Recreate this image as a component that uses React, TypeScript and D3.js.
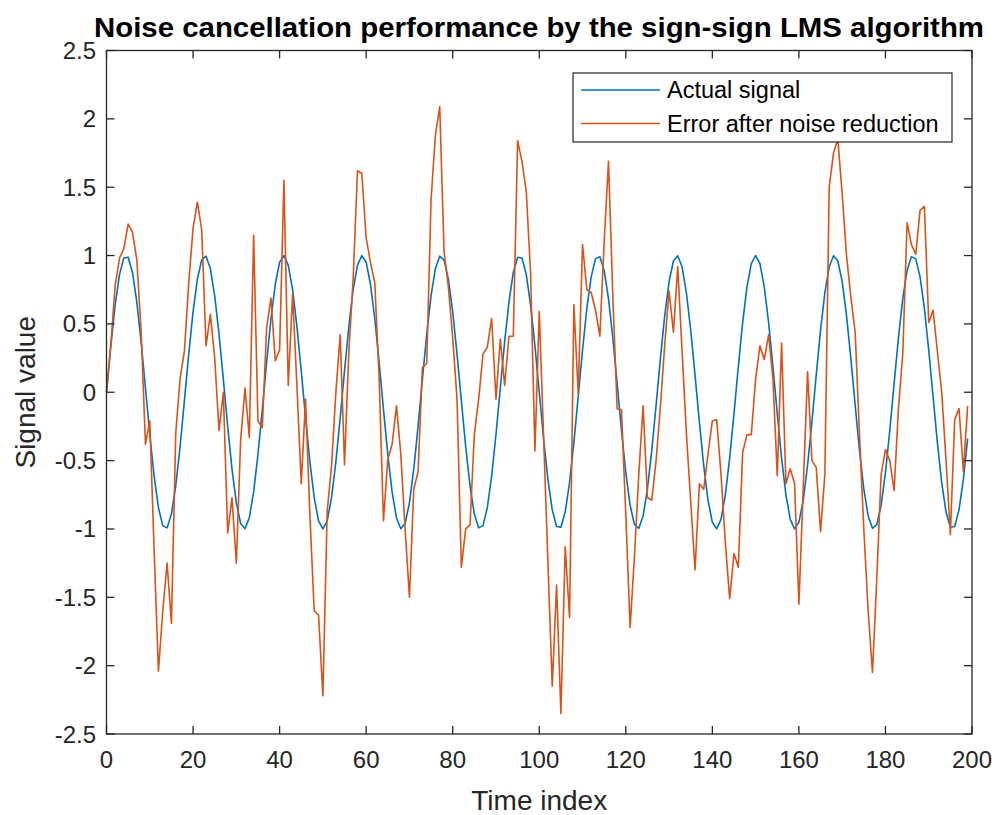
import React from "react";
import * as d3 from "d3";

const xTicks = [0, 20, 40, 60, 80, 100, 120, 140, 160, 180, 200];
const yTicks = [-2.5, -2, -1.5, -1, -0.5, 0, 0.5, 1, 1.5, 2, 2.5];
const yTickLabels = ["-2.5", "-2", "-1.5", "-1", "-0.5", "0", "0.5", "1", "1.5", "2", "2.5"];

const seriesNames = ["Actual signal", "Error after noise reduction"];

const actualSignal = [
  0, 0.3387, 0.6374, 0.8607, 0.9823, 0.9877, 0.8763, 0.6613, 0.3681, 0.0314,
  -0.309, -0.6129, -0.8443, -0.9759, -0.9921, -0.891, -0.6845, -0.3971, -0.0628, 0.279,
  0.5878, 0.8271, 0.9686, 0.9956, 0.9048, 0.7071, 0.4258, 0.0941, -0.2487, -0.5621,
  -0.809, -0.9603, -0.998, -0.9178, -0.729, -0.454, -0.1253, 0.2181, 0.5358, 0.7902,
  0.9511, 0.9995, 0.9298, 0.7501, 0.4818, 0.1564, -0.1874, -0.509, -0.7705, -0.9409,
  -1.0, -0.9409, -0.7705, -0.509, -0.1874, 0.1564, 0.4818, 0.7501, 0.9298, 0.9995,
  0.9511, 0.7902, 0.5358, 0.2181, -0.1253, -0.454, -0.729, -0.9178, -0.998, -0.9603,
  -0.809, -0.5621, -0.2487, 0.0941, 0.4258, 0.7071, 0.9048, 0.9956, 0.9686, 0.8271,
  0.5878, 0.279, -0.0628, -0.3971, -0.6845, -0.891, -0.9921, -0.9759, -0.8443, -0.6129,
  -0.309, 0.0314, 0.3681, 0.6613, 0.8763, 0.9877, 0.9823, 0.8607, 0.6374, 0.3387,
  0, -0.3387, -0.6374, -0.8607, -0.9823, -0.9877, -0.8763, -0.6613, -0.3681, -0.0314,
  0.309, 0.6129, 0.8443, 0.9759, 0.9921, 0.891, 0.6845, 0.3971, 0.0628, -0.279,
  -0.5878, -0.8271, -0.9686, -0.9956, -0.9048, -0.7071, -0.4258, -0.0941, 0.2487, 0.5621,
  0.809, 0.9603, 0.998, 0.9178, 0.729, 0.454, 0.1253, -0.2181, -0.5358, -0.7902,
  -0.9511, -0.9995, -0.9298, -0.7501, -0.4818, -0.1564, 0.1874, 0.509, 0.7705, 0.9409,
  1.0, 0.9409, 0.7705, 0.509, 0.1874, -0.1564, -0.4818, -0.7501, -0.9298, -0.9995,
  -0.9511, -0.7902, -0.5358, -0.2181, 0.1253, 0.454, 0.729, 0.9178, 0.998, 0.9603,
  0.809, 0.5621, 0.2487, -0.0941, -0.4258, -0.7071, -0.9048, -0.9956, -0.9686, -0.8271,
  -0.5878, -0.279, 0.0628, 0.3971, 0.6845, 0.891, 0.9921, 0.9759, 0.8443, 0.6129,
  0.309, -0.0314, -0.3681, -0.6613, -0.8763, -0.9877, -0.9823, -0.8607, -0.6374, -0.3387,
];

const errorSignal = [
  0.0, 0.35, 0.78, 0.98, 1.05, 1.23, 1.17, 0.97, 0.45, -0.38,
  -0.21, -1.15, -2.04, -1.6, -1.25, -1.69, -0.3, 0.1, 0.3, 0.8,
  1.2, 1.39, 1.19, 0.34, 0.57, 0.25, -0.28, 0.0, -1.03, -0.77,
  -1.25, -0.35, 0.03, -0.33, 1.15, -0.21, -0.26, 0.47, 0.69, 0.23,
  0.31, 1.55, 0.05, 0.72, 0.05, -0.67, -0.05, -0.9, -1.6, -1.63,
  -2.22, -0.87, -0.54, 0.0, 0.42, -0.53, 0.3, 0.83, 1.62, 1.6,
  1.13, 0.95, 0.8, 0.1, -0.94, -0.49, -0.38, -0.1, -0.45, -1.0,
  -1.5, -0.71, -0.58, 0.18, 0.21, 1.41, 1.88, 2.09, 1.03, 0.77,
  0.4, -0.05, -1.28, -1.0, -0.97, -0.31, -0.05, 0.28, 0.33, 0.54,
  -0.05, 0.39, 0.05, 0.41, 0.41, 1.84, 1.69, 1.47, 0.87, -0.43,
  0.59, -0.32, -1.24, -2.15, -1.41, -2.35, -1.13, -1.65, 0.64, -0.01,
  1.08, 0.75, 0.73, 0.6, 0.41, 1.1, 1.69, 0.7, -0.12, -0.13,
  -0.9, -1.72, -1.2, -0.6, -0.1, -0.77, -0.79, -0.5, -0.1, 0.35,
  0.74, 0.44, 0.92, 0.3, -0.3, -0.8, -1.3, -0.67, -0.71, -0.45,
  -0.21, -0.2, -0.6, -1.1, -1.51, -1.18, -1.28, -0.44, -0.31, -0.31,
  0.1, 0.34, 0.24, 0.42, 0.1, -0.61, 0.36, -0.67, -0.56, -0.67,
  -1.55, -0.7, 0.15, -0.5, -0.55, -1.02, -0.6, 1.5, 1.75, 1.85,
  1.45, 1.0, 0.7, 0.44, -0.31, -1.0, -1.6, -2.05, -1.36, -0.6,
  -0.42, -0.5, -0.72, -0.12, 0.28, 1.24, 1.08, 1.01, 1.33, 1.36,
  0.51, 0.6, 0.3, 0.0, -0.5, -1.04, -0.2, -0.12, -0.58, -0.1,
];

const W = 996;
const H = 815;
const L = 106.5;
const R = 972;
const T = 50.5;
const B = 734;
const AX = "#262626";
const BLUE = "#0072BD";
const ORANGE = "#D95319";
const FONT = "'Liberation Sans', Arial, Helvetica, sans-serif";

export default function App() {
  const x = d3.scaleLinear().domain([0, 200]).range([L, R]);
  const y = d3.scaleLinear().domain([-2.5, 2.5]).range([B, T]);
  const line = d3
    .line<number>()
    .x((_, i) => x(i))
    .y((d) => y(d));
  const tk = 8;

  return (
    <svg
      width={W}
      height={H}
      viewBox={`0 0 ${W} ${H}`}
      style={{ position: "absolute", left: 0, top: 0, background: "#fff" }}
      fontFamily={FONT}
    >
      <rect x={0} y={0} width={W} height={H} fill="#fff" />
      <path d={line(actualSignal) || ""} fill="none" stroke={BLUE} strokeWidth={1.6} strokeLinejoin="round" />
      <path d={line(errorSignal) || ""} fill="none" stroke={ORANGE} strokeWidth={1.6} strokeLinejoin="round" />

      <rect x={L} y={T} width={R - L} height={B - T} fill="none" stroke={AX} strokeWidth={1.3} />
      {xTicks.map((t) => (
        <g key={"xt" + t}>
          <line x1={x(t)} x2={x(t)} y1={B} y2={B - tk} stroke={AX} strokeWidth={1.3} />
          <line x1={x(t)} x2={x(t)} y1={T} y2={T + tk} stroke={AX} strokeWidth={1.3} />
          <text x={x(t)} y={768} textAnchor="middle" fontSize={24} fill={AX}>
            {t}
          </text>
        </g>
      ))}
      {yTicks.map((t, i) => (
        <g key={"yt" + t}>
          <line x1={L} x2={L + tk} y1={y(t)} y2={y(t)} stroke={AX} strokeWidth={1.3} />
          <line x1={R} x2={R - tk} y1={y(t)} y2={y(t)} stroke={AX} strokeWidth={1.3} />
          <text x={96} y={y(t) + 8.5} textAnchor="end" fontSize={24} fill={AX}>
            {yTickLabels[i]}
          </text>
        </g>
      ))}

      <text x={(L + R) / 2} y={810} textAnchor="middle" fontSize={28} fill={AX}>
        Time index
      </text>
      <text
        transform={`translate(35, ${(T + B) / 2}) rotate(-90)`}
        textAnchor="middle"
        fontSize={28}
        fill={AX}
      >
        Signal value
      </text>
      <text
        x={539}
        y={37}
        textAnchor="middle"
        fontSize={27}
        fontWeight="bold"
        fill="#000"
        textLength={890}
        lengthAdjust="spacingAndGlyphs"
      >
        Noise cancellation performance by the sign-sign LMS algorithm
      </text>

      <rect x={573} y={73} width={379} height={69} fill="#fff" stroke={AX} strokeWidth={1.2} />
      {seriesNames.map((name, i) => (
        <g key={name}>
          <line x1={581} x2={660} y1={90 + i * 33.5} y2={90 + i * 33.5} stroke={i === 0 ? BLUE : ORANGE} strokeWidth={1.6} />
          <text x={667} y={90 + i * 33.5 + 8} fontSize={23.5} fill="#000">
            {name}
          </text>
        </g>
      ))}
    </svg>
  );
}
